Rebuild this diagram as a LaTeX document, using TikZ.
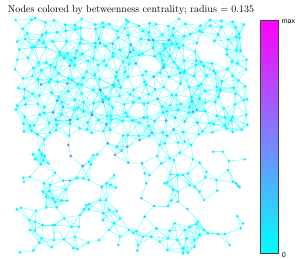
\documentclass[tikz,border=0pt]{standalone}
\usepackage{fontspec}
\newfontfamily\labfont{Liberation Sans}
\definecolor{ccy}{rgb}{0,1,1}
\definecolor{cmg}{rgb}{1,0,1}
\pgfdeclarelayer{background}
\pgfsetlayers{background,main}
\tikzset{
  vtx/.style={circle,inner sep=0pt,minimum size=2.9pt,draw=none},
  lnk/.style={draw=ccy,draw opacity=0.5,line width=0.55pt},
  cbarbox/.style={draw=black!75,line width=0.4pt,minimum width=18pt,minimum height=233pt,inner sep=0pt,top color=cmg,bottom color=ccy},
  cblabel/.style={anchor=west,inner sep=0pt,font=\labfont\fontsize{7}{8}\selectfont},
}
\newcount\vcnt \vcnt=0
\newcount\ecA \newcount\ecB
\newcount\ecDX \newcount\ecDY
\def\addvi#1#2#3{%
  \global\advance\vcnt by 1
  \expandafter\xdef\csname vx@\the\vcnt\endcsname{#1}%
  \expandafter\xdef\csname vy@\the\vcnt\endcsname{#2}%
  \node[vtx,fill=cmg!#3!ccy] (v\the\vcnt) at ({#1/10},{#2/10}) {};%
}
\def\addv#1#2#3{%
  \edef\tmpqx{\the\numexpr\dimexpr#1pt\relax*10/65536\relax}%
  \edef\tmpqy{\the\numexpr\dimexpr#2pt\relax*10/65536\relax}%
  \addvi{\tmpqx}{\tmpqy}{#3}%
}
\def\edgesfrom{%
  \ecB=\ecA \advance\ecB by 1
  \edef\curx{\csname vx@\the\ecA\endcsname}%
  \edef\cury{\csname vy@\the\ecA\endcsname}%
  \innerstep}
\def\innerstep{%
  \ifnum\ecB>\vcnt\else
    \ecDX=\numexpr\curx-\csname vx@\the\ecB\endcsname\relax
    \ecDY=\numexpr\cury-\csname vy@\the\ecB\endcsname\relax
    \ifnum\numexpr\ecDX*\ecDX+\ecDY*\ecDY\relax<28900
      \draw[lnk] (v\the\ecA.center) -- (v\the\ecB.center);%
    \fi
    \advance\ecB by 1
    \expandafter\innerstep
  \fi}
\def\outerstep{%
  \ifnum\ecA<\vcnt
    \edgesfrom
    \advance\ecA by 1
    \expandafter\outerstep
  \fi}
\begin{document}
\begin{tikzpicture}[x=1pt,y=-1pt]
\useasboundingbox (0,0) rectangle (299,258);
\node[anchor=base] (title) at (131,12.6) {Nodes colored by betweenness centrality; radius = 0.135};
% explicit high-centrality nodes in the dense part
\foreach \qa/\qb/\qc in {100/90/95,70/120/85,92/115/80,103/102/60,153/40/45,169/40/40,130/52/40,152/133/40,197/110/30,75/58/30,100/43/35,63/107/35,113/85/30,56/120/30}{\addv{\qa}{\qb}{\qc}}
% dense part: one random node per small cell
\pgfmathsetseed{7321}
\foreach \cx in {0,...,24}{%
 \foreach \cy in {0,...,12}{%
  \pgfmathrandominteger{\ox}{0}{92}%
  \pgfmathrandominteger{\oy}{0}{90}%
  \pgfmathrandominteger{\rt}{0}{99}%
  \edef\rx{\the\numexpr150+\cx*93+\ox\relax}%
  \edef\ry{\the\numexpr178+\cy*91+\oy\relax}%
  \ifnum\numexpr(\rx-900)*(\rx-900)+(\ry-970)*(\ry-970)\relax<4900 \else
  \ifnum\numexpr(\rx-2100)*(\rx-2100)+(\ry-500)*(\ry-500)\relax<6400 \else
    \edef\tcol{\the\numexpr\rt/12\relax}%
    \ifnum\rx>400 \ifnum\rx<2100 \ifnum\ry>350 \ifnum\rt<14
      \edef\tcol{\the\numexpr20+\rt*2\relax}%
    \fi\fi\fi\fi
    \addvi{\rx}{\ry}{\tcol}%
  \fi\fi
 }%
}
% sparse lower part, left
\foreach \qa/\qb/\qc in {44.3/139.3/5,68.3/145/60,107.7/143.3/55,116.7/146.7/10,127.3/146.7/50,121.7/150.7/10,115/155/55,128.3/162.7/35,70.7/156/60,39.3/150/5,32.7/154.3/5,41.7/154/5,45/156/5,35/159.3/5,43.3/160/5,40.7/164.3/5,48.3/163.3/5,55/172.7/10,30/176.7/5,23.3/177.7/5,24/181.7/5,44/183.3/5,50/185/5,42.7/191.7/5,49.3/191/5,63.3/180.7/10,70/180.7/30,66/189.3/5,76.7/177.7/10,82.7/166/60,89/161.7/10,93.3/155/5,97.3/154.3/5,91/164.3/5,83.3/178.3/5,89/180/5,101.7/186.7/25,106.7/183.3/5,114/175/5,116/187.7/5,110.7/185/5,53.3/198.3/5,55/201.7/5,61.7/200.7/5,67.3/200.7/5,46/196.7/5,56.7/207.3/5,46/207.7/5,86/205/5,89.3/204/5,84/209.3/5,89/209.3/5,16.7/209.3/5,21/207.7/5,36/210.7/5,106/200/5,100/200/5,109.3/210/5,116.7/211/5,29.3/220/5,35/221.7/5,42.7/225/5,35/230.7/5,52.7/225/5,55/225/5,64.3/218.3/5,71.7/226.7/5,80/215/5,79/226.7/5,103.3/213.3/5,102.7/220/5,120/218.3/5,114/223.3/5,109/230/5,129/230/5,30/230/5,41.7/238.3/5,39.3/242.7/5,54/240/5,64/239.3/5,75/236.7/5,88.3/242.7/5,99.3/240/5,51.7/247.3/5,73.3/248.3/5,77.3/249.3/5,33.3/250.7/5,20/252.3/5,120/236.7/5,118.3/245/5}{\addv{\qa}{\qb}{\qc}}
% sparse lower part, right
\foreach \qa/\qb/\qc in {139.7/140/50,159.7/145/10,164.7/143.3/10,178/142.7/5,184.7/141.7/5,191.3/145/5,179.7/152.7/5,157.3/156/10,161.3/163.3/10,169.7/158.3/5,174/160/5,193/159.3/5,199.7/162.7/5,213/151.7/5,223/151.7/5,229/161/5,244.7/159.3/5,228/170/5,206.3/171.7/5,216.3/180/5,217.3/190.7/5,205.3/177.3/5,194.7/186.7/5,199.7/191.7/5,204/200/5,189.7/185/5,188/173.3/5,183/175/5,177.3/175/5,170.7/174.3/5,164.7/183.3/5,167.3/182.7/5,173/190/5,178/191.7/5,171.3/200.7/5,178/201.7/5,142/163.3/30,144.7/173.3/10,149.7/175/5,146.3/183.3/20,141.3/198.3/25,154/206/30,168/206/15,187.3/209/10,144.7/216.7/25,156.3/228.3/25,233/181.7/5,236.3/183.3/5,238/186/5,239.7/187.3/5,237.3/216/5,243/223.3/5,240.7/228.3/5,229.7/245/5,224.7/234/5,218/234/5,208/233.3/5,204/230/5,198/221.7/5,196.3/224/5,189.7/226.7/5,184.7/230/5,174.7/223.3/5,169.7/230.7/5,168/238.3/5,159.7/241.7/5,151.3/236.7/10,143/236.7/10,136.3/231/5,133/232.7/5,138/245/5,137.3/250.7/5,167.3/250/5,177.3/240/5,186.3/238.3/5,194.7/240/5,199.7/235/5,194.7/246.7/5,183/248.3/5,183/253.3/5,188/252.7/5}{\addv{\qa}{\qb}{\qc}}
% edges between all nodes closer than the radius
\begin{pgfonlayer}{background}
\ecA=1
\outerstep
\end{pgfonlayer}
% colour bar
\node[cbarbox] (cbar) at (269,136.5) {};
\node[cblabel] (lmax) at ([xshift=3.5pt,yshift=-2pt]cbar.north east) {max};
\node[cblabel] (lzero) at ([xshift=3.5pt,yshift=-2pt]cbar.south east) {0};
\end{tikzpicture}
\end{document}
